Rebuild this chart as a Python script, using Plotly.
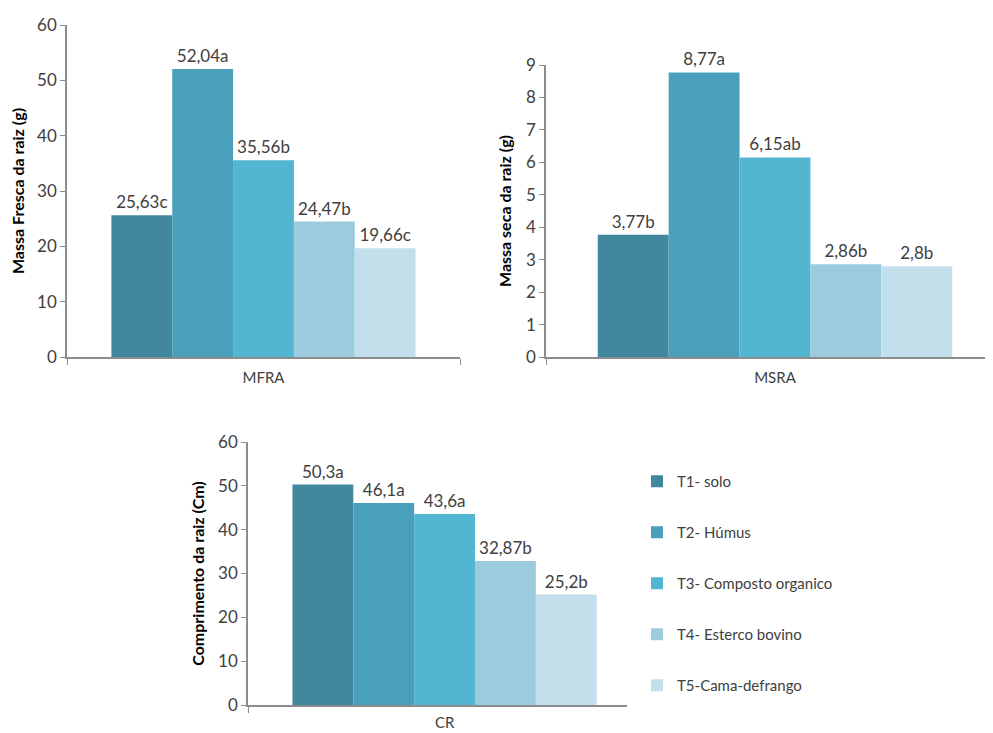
import plotly.graph_objects as go

treatments = ["T1- solo", "T2- Húmus", "T3- Composto organico", "T4- Esterco bovino", "T5-Cama-defrango"]
colors = ["#41889E", "#4AA0BB", "#52B5D1", "#9DCBDE", "#C3DFEB"]

mfra_vals = [25.63, 52.04, 35.56, 24.47, 19.66]
mfra_letters = ["c", "a", "b", "b", "c"]
msra_vals = [3.77, 8.77, 6.15, 2.86, 2.8]
msra_letters = ["b", "a", "ab", "b", "b"]
cr_vals = [50.3, 46.1, 43.6, 32.87, 25.2]
cr_letters = ["a", "a", "a", "b", "b"]

panels = [
    ("MFRA", mfra_vals, mfra_letters, "x", "y", False),
    ("MSRA", msra_vals, msra_letters, "x2", "y2", False),
    ("CR", cr_vals, cr_letters, "x3", "y3", True),
]

FONT = "Lato, 'Open Sans', sans-serif"
TXT = "#404040"

fig = go.Figure()
for cat, vals, letters, xa, ya, legend in panels:
    for i, name in enumerate(treatments):
        label = str(vals[i]).replace(".", ",") + letters[i]
        fig.add_trace(go.Bar(
            x=[cat], y=[vals[i]], name=name,
            marker=dict(color=colors[i], line=dict(width=0)),
            text=[label], textposition="outside", cliponaxis=False,
            textfont=dict(size=17, color=TXT, family=FONT),
            xaxis=xa, yaxis=ya, showlegend=legend, legendgroup=name,
        ))

axis_line = dict(showline=True, linecolor="#8C8C8C", linewidth=1.5,
                 ticks="outside", tickcolor="#8C8C8C", ticklen=5,
                 showgrid=False, zeroline=False, automargin=False)

def xax(domain, rng, anchor, standoff):
    d = dict(axis_line)
    d.update(domain=domain, range=rng, anchor=anchor, tickson="boundaries",
             type="category", ticklen=6, ticklabelstandoff=standoff,
             tickfont=dict(size=15, color=TXT, family=FONT))
    return d

def yax(domain, rng, dtick, anchor, title):
    d = dict(axis_line)
    d.update(domain=domain, range=rng, dtick=dtick, anchor=anchor,
             tickfont=dict(size=17, color=TXT, family=FONT),
             title=dict(text=title, font=dict(size=16, color="#000000", family=FONT, weight="bold"), standoff=10))
    return d

# page body adds an 8px offset; positions below are in screen pixels
OFF = 8
W, H = 993 - OFF, 733 - OFF
def xd(a, b):
    return [(a - OFF) / W, min(1.0, (b - OFF) / W)]
def yd(top, bottom):
    return [(H - (bottom - OFF)) / H, (H - (top - OFF)) / H]

fig.update_layout(
    width=W, height=H,
    margin=dict(l=0, r=0, t=0, b=0),
    paper_bgcolor="white", plot_bgcolor="white",
    barmode="group", bargap=0.226, bargroupgap=0,
    font=dict(family=FONT, color=TXT),
    xaxis=xax(xd(67, 460), [-0.5, 0.5], "y", 6),
    yaxis=yax(yd(25, 357), [0, 60], 10, "x", "Massa Fresca da raiz (g)"),
    xaxis2=xax(xd(546, 993), [-0.5, 0.476], "y2", 6),
    yaxis2=yax(yd(65, 357), [0, 9], 1, "x2", "Massa seca da raiz (g)"),
    xaxis3=xax(xd(248, 627), [-0.5, 0.464], "y3", 3),
    yaxis3=yax(yd(442, 705), [0, 60], 10, "x3", "Comprimento da raiz (Cm)"),
    legend=dict(x=(637 - OFF) / W, y=(H - (465 - OFF)) / H, xanchor="left", yanchor="top",
                font=dict(size=15, color=TXT, family=FONT),
                traceorder="grouped", tracegroupgap=28.5, itemwidth=30,
                bgcolor="rgba(0,0,0,0)"),
    showlegend=True,
)

fig.write_html("out.html")
